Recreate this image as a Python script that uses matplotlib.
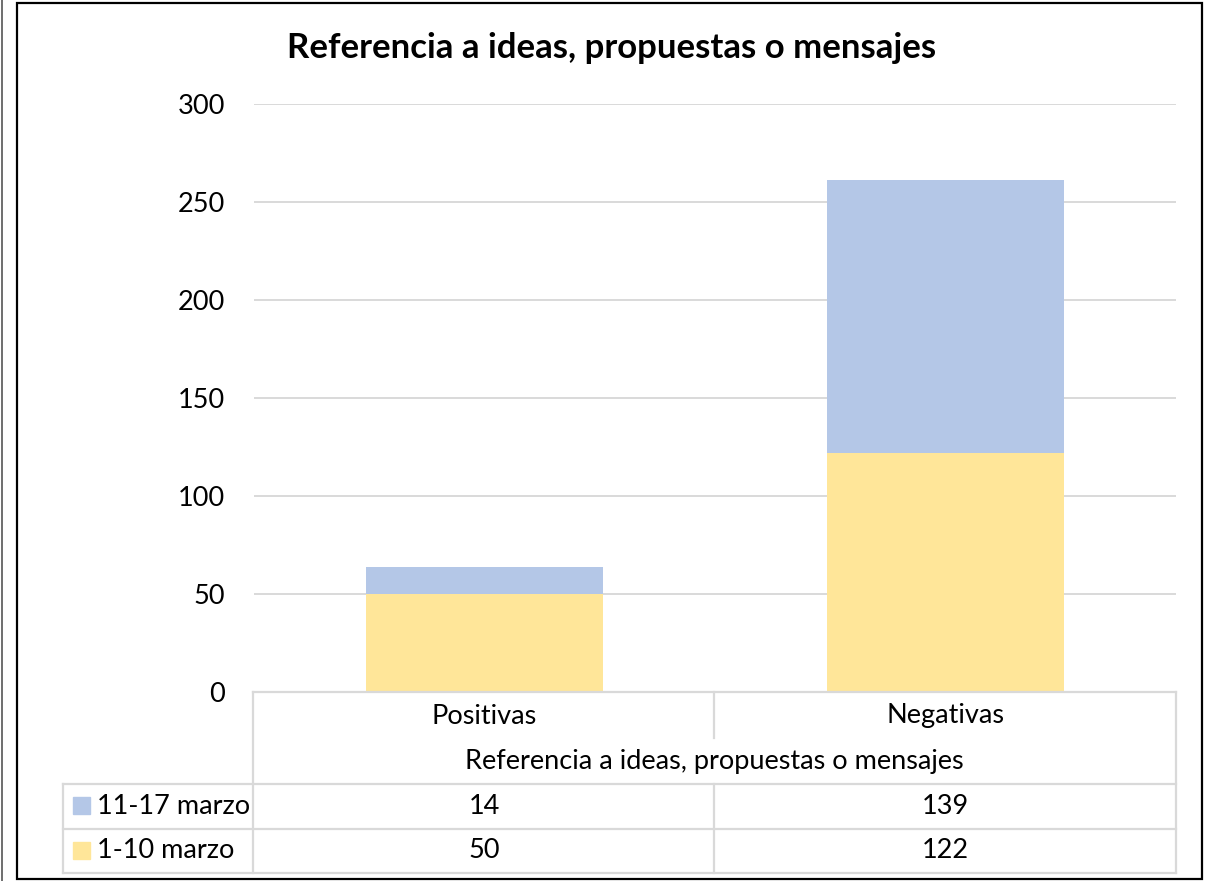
import matplotlib
matplotlib.use("Agg")
import matplotlib.pyplot as plt
from matplotlib.lines import Line2D
from matplotlib.patches import Rectangle
import matplotlib.transforms as mtrans

categories = ["Positivas", "Negativas"]
series_names = ["11-17 marzo", "1-10 marzo"]
s_mar11_17 = [14, 139]
s_mar1_10 = [50, 122]
yticks = [0, 50, 100, 150, 200, 250, 300]
title = "Referencia a ideas, propuestas o mensajes"
axis_title = "Referencia a ideas, propuestas o mensajes"

C_BLUE = "#B4C7E7"
C_YELLOW = "#FFE699"
C_GRID = "#D9D9D9"
FONT = "Lato"
FS = 19.5

W, H = 1216, 881
fig = plt.figure(figsize=(W / 100, H / 100), dpi=100)
plt.rcParams["font.family"] = [FONT, "DejaVu Sans"]

def fx(px):
    return px / W

def fy(py):
    return 1 - py / H

ax = fig.add_axes([fx(254), fy(692), fx(1176) - fx(254), fy(104) - fy(692)])
x = list(range(len(categories)))
bw = 0.512
ax.bar(x, s_mar1_10, width=bw, color=C_YELLOW, zorder=3)
ax.bar(x, s_mar11_17, width=bw, bottom=s_mar1_10, color=C_BLUE, zorder=3)
ax.set_xlim(-0.5, len(categories) - 0.5)
ax.set_ylim(0, 300)
ax.set_yticks(yticks)
ax.set_yticklabels([str(v) for v in yticks], fontsize=FS, color="#000000")
ax.tick_params(axis="y", length=0, pad=21)
ax.tick_params(axis="x", length=0, labelbottom=False)
for s in ax.spines.values():
    s.set_visible(False)
ax.yaxis.grid(True, color=C_GRID, linewidth=1.4, zorder=0)
ax.set_axisbelow(True)

fig.text(fx(612), fy(48), title, ha="center", va="center", fontsize=25,
         fontweight="bold", color="#000000")

# data table
lw = 1.6
def hline(y, x0, x1):
    fig.add_artist(Line2D([fx(x0), fx(x1)], [fy(y), fy(y)], color=C_GRID, lw=lw))

def vline(xp, y0, y1):
    fig.add_artist(Line2D([fx(xp), fx(xp)], [fy(y0), fy(y1)], color=C_GRID, lw=lw))

hline(692, 253, 1176)
hline(784, 63, 1176)
hline(829, 63, 1176)
hline(873, 63, 1176)
vline(253, 692, 873)
vline(1176, 692, 873)
vline(63, 784, 873)
vline(714, 692, 738)
vline(714, 784, 873)

trans = mtrans.blended_transform_factory(ax.transData, fig.transFigure)
for i, c in enumerate(categories):
    fig.text(i, fy(716), c, transform=trans, ha="center", va="center", fontsize=FS)
    fig.text(i, fy(806), str(s_mar11_17[i]), transform=trans, ha="center", va="center", fontsize=FS)
    fig.text(i, fy(851), str(s_mar1_10[i]), transform=trans, ha="center", va="center", fontsize=FS)
fig.text(fx(714), fy(761), axis_title, ha="center", va="center", fontsize=FS)

for name, col, yc in [(series_names[0], C_BLUE, 806), (series_names[1], C_YELLOW, 851)]:
    fig.add_artist(Rectangle((fx(73), fy(yc + 8)), fx(17), fy(0) - fy(17), color=col,
                             transform=fig.transFigure))
    fig.text(fx(97), fy(yc), name, ha="left", va="center", fontsize=FS)

# outer frame
fig.add_artist(Rectangle((fx(17), fy(879)), fx(1202) - fx(17), fy(3) - fy(879), fill=False,
                         edgecolor="#000000", lw=1.6, transform=fig.transFigure))
fig.add_artist(Line2D([fx(2), fx(2)], [0, 1], color="#555555", lw=1.2))

fig.savefig("out.png", dpi=100)
